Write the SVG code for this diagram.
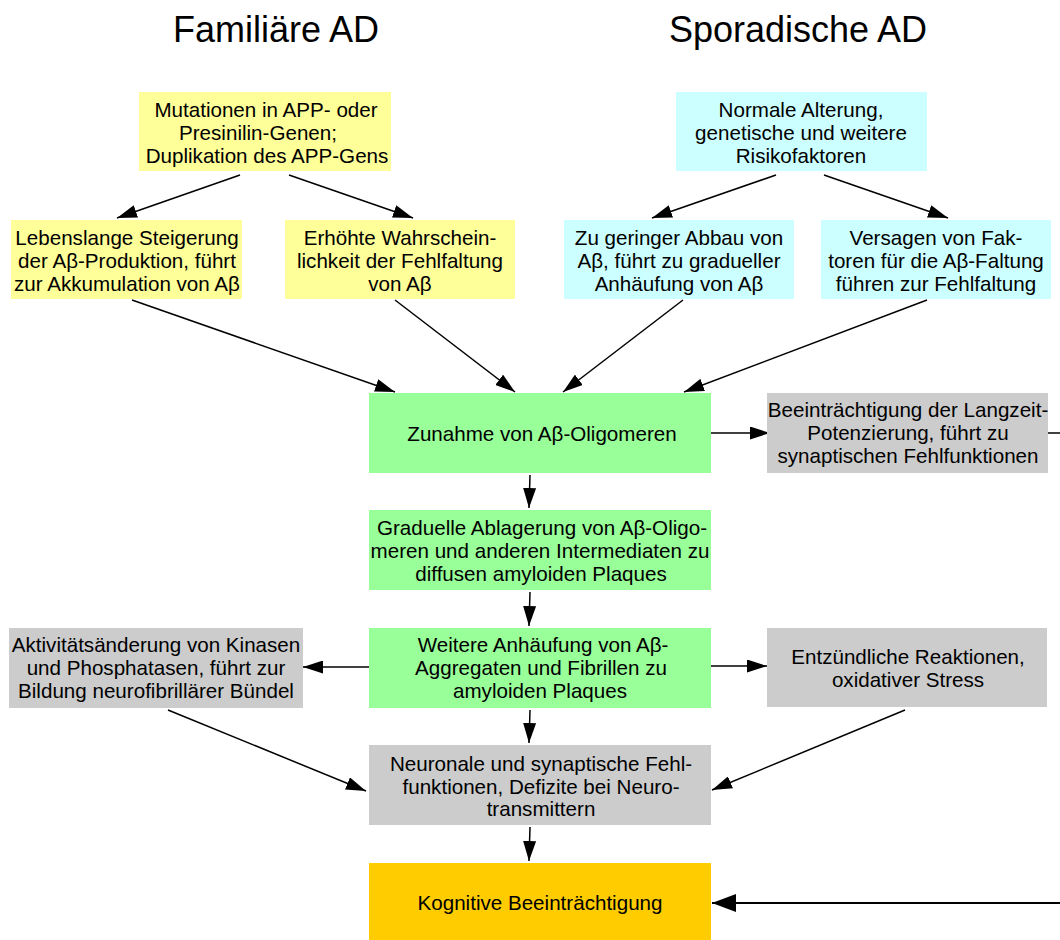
<svg xmlns="http://www.w3.org/2000/svg" width="1060" height="940" viewBox="0 0 1060 940">
<style>
text{font-family:"Liberation Sans",Arial,sans-serif;font-size:20.6px;fill:#000;text-anchor:middle}
.title{font-size:36px}
.y{fill:#ffff99}.c{fill:#ccffff}.g{fill:#99ff99}.s{fill:#cccccc}.o{fill:#ffcc00}
.e{stroke:#000;stroke-width:1.5;fill:none}
</style>
<defs>
<marker id="a" viewBox="0 0 20 13" refX="20" refY="6.5" markerWidth="20" markerHeight="13" markerUnits="userSpaceOnUse" orient="auto"><path d="M0,0L20,6.5L0,13z" fill="#000"/></marker>
<marker id="b" viewBox="0 0 24 18" refX="24" refY="9" markerWidth="24" markerHeight="18" markerUnits="userSpaceOnUse" orient="auto"><path d="M0,0L24,9L0,18z" fill="#000"/></marker>
</defs>
<rect width="1060" height="940" fill="#fff"/>
<text class="title" x="276" y="42">Familiäre AD</text>
<text class="title" x="798" y="42">Sporadische AD</text>

<g id="connectors">
<path class="e" d="M240,175L117,218" marker-end="url(#a)"/>
<path class="e" d="M289,175L413,218" marker-end="url(#a)"/>
<path class="e" d="M776,175L652,218" marker-end="url(#a)"/>
<path class="e" d="M824,175L948,218" marker-end="url(#a)"/>
<path class="e" d="M132,300L395,392" marker-end="url(#a)"/>
<path class="e" d="M395,300L515,392" marker-end="url(#a)"/>
<path class="e" d="M683,300L563,392" marker-end="url(#a)"/>
<path class="e" d="M927,300L684,392" marker-end="url(#a)"/>
<path class="e" d="M705,433L770,433" marker-end="url(#a)"/>
<path class="e" d="M1048,433L1060,433"/>
<path class="e" d="M530,475L529,508" marker-end="url(#a)"/>
<path class="e" d="M530,592L529,626" marker-end="url(#a)"/>
<path class="e" d="M369,667L303,667" marker-end="url(#a)"/>
<path class="e" d="M711,666L767,666" marker-end="url(#a)"/>
<path class="e" d="M530,710L529,743" marker-end="url(#a)"/>
<path class="e" d="M168,710L366,791" marker-end="url(#a)"/>
<path class="e" d="M905,710L712,790" marker-end="url(#a)"/>
<path class="e" d="M530,827L529,861" marker-end="url(#a)"/>
<path class="e" style="stroke-width:2" d="M1060,903L712,903" marker-end="url(#b)"/>
</g>

<g id="mutationen"><rect class="y" x="139" y="92" width="252" height="79"/>
<text x="266" y="117">Mutationen in APP- oder</text><text x="258" y="140">Presinilin-Genen;</text><text x="267" y="163">Duplikation des APP-Gens</text></g>
<g id="lebenslange"><rect class="y" x="11" y="220" width="231" height="79"/>
<text x="127" y="245">Lebenslange Steigerung</text><text x="127" y="268">der Aβ-Produktion, führt</text><text x="127" y="291">zur Akkumulation von Aβ</text></g>
<g id="erhoehte"><rect class="y" x="285" y="220" width="230" height="79"/>
<text x="400" y="245">Erhöhte Wahrschein-</text><text x="400" y="268">lichkeit der Fehlfaltung</text><text x="400" y="291">von Aβ</text></g>
<g id="normale"><rect class="c" x="676" y="92" width="251" height="79"/>
<text x="801" y="117">Normale Alterung,</text><text x="801" y="140">genetische und weitere</text><text x="801" y="163">Risikofaktoren</text></g>
<g id="geringer"><rect class="c" x="564" y="220" width="230" height="79"/>
<text x="679" y="245">Zu geringer Abbau von</text><text x="679" y="268">Aβ, führt zu gradueller</text><text x="679" y="291">Anhäufung von Aβ</text></g>
<g id="versagen"><rect class="c" x="821" y="220" width="230" height="79"/>
<text x="936" y="245">Versagen von Fak-</text><text x="936" y="268">toren für die Aβ-Faltung</text><text x="936" y="291">führen zur Fehlfaltung</text></g>
<g id="zunahme"><rect class="g" x="369" y="393" width="342" height="80"/>
<text x="542" y="441">Zunahme von Aβ-Oligomeren</text></g>
<g id="ltp"><rect class="s" x="767" y="393" width="281" height="80"/>
<text x="908" y="417">Beeinträchtigung der Langzeit-</text><text x="908" y="440">Potenzierung, führt zu</text><text x="908" y="463">synaptischen Fehlfunktionen</text></g>
<g id="graduelle"><rect class="g" x="369" y="510" width="342" height="80"/>
<text x="542" y="535">Graduelle Ablagerung von Aβ-Oligo-</text><text x="540" y="558">meren und anderen Intermediaten zu</text><text x="541" y="581">diffusen amyloiden Plaques</text></g>
<g id="weitere"><rect class="g" x="369" y="628" width="342" height="80"/>
<text x="543" y="652">Weitere Anhäufung von Aβ-</text><text x="541" y="675">Aggregaten und Fibrillen zu</text><text x="540" y="698">amyloiden Plaques</text></g>
<g id="aktivitaet"><rect class="s" x="9" y="628" width="294" height="80"/>
<text x="156" y="652">Aktivitätsänderung von Kinasen</text><text x="156" y="675">und Phosphatasen, führt zur</text><text x="156" y="698">Bildung neurofibrillärer Bündel</text></g>
<g id="entzuendlich"><rect class="s" x="767" y="628" width="280" height="79"/>
<text x="908" y="664">Entzündliche Reaktionen,</text><text x="908" y="687">oxidativer Stress</text></g>
<g id="neuronale"><rect class="s" x="369" y="745" width="342" height="80"/>
<text x="541" y="771">Neuronale und synaptische Fehl-</text><text x="541" y="794">funktionen, Defizite bei Neuro-</text><text x="541" y="816">transmittern</text></g>
<g id="kognitiv"><rect class="o" x="369" y="863" width="342" height="77"/>
<text x="540" y="910">Kognitive Beeinträchtigung</text></g>
</svg>
